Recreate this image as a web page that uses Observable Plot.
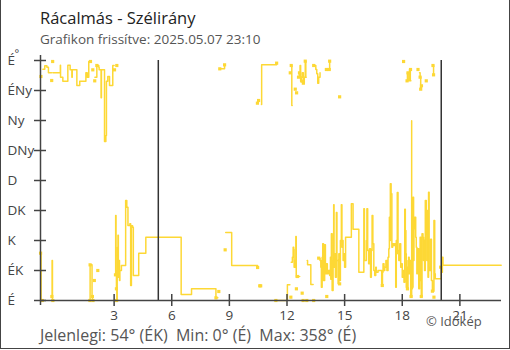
<!DOCTYPE html>
<html><head><meta charset="utf-8">
<script src="https://cdn.jsdelivr.net/npm/d3@7"></script>
<script src="https://cdn.jsdelivr.net/npm/@observablehq/plot@0.6"></script>
<style>
html,body{margin:0;padding:0;background:#fff;}
#card{position:relative;width:510px;height:350px;font-family:"Open Sans",sans-serif;overflow:hidden;background:#fff;}
#frame{position:absolute;left:0;top:0;width:510px;height:349px;box-sizing:border-box;border:1px solid #444;border-top:none;pointer-events:none;}
.t{position:absolute;white-space:pre;line-height:1.2;}
#title{left:40px;top:8px;font-size:16.5px;color:#222;}
#sub{left:40px;top:31px;font-size:13.5px;color:#555;}
#foot{left:40px;top:326px;font-size:16px;color:#555;}
#copy{left:426px;top:314px;font-size:13px;color:#555;}
#chart{position:absolute;left:0;top:40px;}
</style></head>
<body>
<div id="card">
<div id="chart"></div>
<div class="t" id="title">Rácalmás - Szélirány</div>
<div class="t" id="sub">Grafikon frissítve: 2025.05.07 23:10</div>
<div class="t" id="foot">Jelenlegi: 54° (ÉK)  Min: 0° (É)  Max: 358° (É)</div>
<div class="t" id="copy">© Időkép</div>
<div id="frame"></div>
</div>
<script>
// x: hours of 2025-05-07 (window 23:10 previous day .. 23:10), y: wind direction in degrees
const xDomain = [-0.833, 23.167];
const xTicks = [3, 6, 9, 12, 15, 18, 21];
const yTicks = [0, 45, 90, 135, 180, 225, 270, 315, 360];
const yLabels = ["É", "ÉK", "K", "DK", "D", "DNy", "Ny", "ÉNy", "É"];
const sunTimes = [5.3, 20.03];

const nightLine = [
  [-0.83, 71], [-0.8, 0], [-0.74, 0], null,
  [-0.71, 347], [-0.61, 352], [-0.5, 350], [-0.42, 341.5], [-0.26, 341.5], null,
  [-0.24, 6], [-0.23, 60], [-0.21, 0], [-0.19, 0], null,
  [-0.19, 341.5], [0.2, 352.7], [0.21, 335], [0.33, 329], [0.59, 352.7], [0.71, 346], [0.8, 335], [0.82, 346],
  [1.06, 322.5], [1.21, 329], [1.53, 341.5], [1.6, 335], [1.68, 358.5], [1.78, 358.5], null,
  [1.74, 0], [1.75, 53.5], [1.85, 6], [1.87, 0], [1.9, 0], null,
  [2.0, 335], [2.1, 352.5], [2.2, 350], [2.22, 346], [2.32, 304], [2.34, 346], [2.5, 238.5], [2.57, 247.5],
  [2.6, 329], [2.67, 336], [2.76, 322.5], [2.93, 352.5], [3.0, 352.5]
];
const morningLine = [
  [3.07, 38.5], [3.08, 127.5], [3.1, 45], [3.12, 17.5], [3.14, 0], [3.16, 40], [3.18, 80], [3.2, 98], [3.22, 35],
  [3.25, 60], [3.28, 30], [3.3, 45], [3.38, 52.5], [3.6, 150], [3.66, 140], [3.72, 112.5], [3.82, 115], [3.86, 22.5],
  [3.9, 112], [3.96, 110], [4.0, 37.5], [4.28, 71], [4.65, 95], [6.48, 95], [6.49, 9], [6.96, 9], [7.03, 17.5],
  [8.29, 17.5], [8.3, 4], [8.4, 4], null,
  [8.5, 347.5], [8.73, 347.5], [8.75, 353.5], null,
  [8.81, 102], [9.1, 102], [9.12, 52.5], [10.47, 52.5], null,
  [10.67, 294], [10.68, 353.5], [11.46, 353.5], null,
  [11.42, 0], [12.02, 23.5], [12.15, 23.5]
];
const noonTop = [
  [12.22, 352.5], [12.25, 292.5], [12.27, 292.5], null,
  [12.6, 335], [12.64, 341.5], [12.68, 352.5], [12.71, 329], [12.75, 335], [12.8, 341.5], [12.85, 326], [12.9, 335],
  [12.95, 359], [12.98, 335], [13.0, 335], null,
  [13.45, 352.5], [13.5, 346.5], [13.55, 340], [13.6, 326], [13.65, 335], [13.72, 341.5], null,
  [14.05, 346.5], [14.2, 346.5], [14.22, 359]
];
const noonLine = [
  [12.22, 57.5], [12.28, 65], [12.32, 80], [12.35, 77], [12.37, 50], [12.42, 60], [12.46, 96], [12.48, 35],
  [12.54, 36], [12.66, 36], null,
  [13.05, 60], [13.07, 53.5], [13.24, 24], [13.36, 24]
];
const afternoonLine = [
  [13.65, 63.5], [13.72, 60], [13.76, 50], [13.79, 20], [13.83, 65], [13.86, 85], [13.9, 30], [13.96, 83.5],
  [14.0, 40], [14.05, 55], [14.1, 40], [14.15, 45], [14.22, 37.5], [14.26, 65], [14.28, 32], [14.31, 100],
  [14.35, 15], [14.4, 60], [14.43, 143.5], [14.45, 50], [14.48, 70], [14.52, 35], [14.57, 132], [14.6, 60],
  [14.66, 25], [14.7, 70], [14.74, 30], [14.78, 90], [14.83, 143.5], [14.86, 80], [14.88, 90], [14.92, 60],
  [14.96, 70], [15.0, 50], [15.05, 95], [15.32, 95], [15.35, 145], [15.44, 107], [15.73, 107], [15.74, 42.5],
  [15.96, 42.5], [16.0, 137.5], [16.03, 60], [16.08, 60], [16.13, 90], [16.16, 137.5], [16.2, 75], [16.25, 55],
  [16.3, 77.5], [16.35, 35], [16.39, 75], [16.43, 127.5], [16.47, 85], [16.52, 45], [16.57, 37.5], [16.62, 50],
  [16.65, 42.5], [16.74, 45], [16.91, 45], [16.93, 22.5], [16.97, 42.5], [17.0, 55], [17.05, 45], [17.09, 50],
  [17.15, 60], [17.2, 45], [17.26, 65], [17.3, 77.5], [17.33, 125], [17.36, 90], [17.38, 175], [17.42, 160],
  [17.46, 80], [17.5, 85], [17.55, 82.5], [17.61, 85], [17.66, 20], [17.69, 90], [17.72, 70], [17.74, 162],
  [17.78, 75], [17.82, 60], [17.87, 85], [17.92, 50], [17.95, 55], [18.0, 35], [18.04, 45], [18.09, 27.5],
  [18.13, 137], [18.16, 105], [18.19, 70], [18.21, 20], [18.24, 50], [18.27, 17.5], [18.3, 60], [18.33, 65],
  [18.36, 40], [18.4, 60], [18.44, 5], [18.49, 269.5], null
];
const eveningLine = [
  [18.5, 17.5], [18.53, 20], [18.56, 155], [18.59, 60], [18.61, 107.5], [18.65, 125], [18.7, 95], [18.73, 80],
  [18.76, 40], [18.79, 60], [18.82, 77.5], [18.86, 17.5], [18.9, 50], [18.93, 95], [18.96, 30], [18.99, 6],
  [19.03, 100], [19.08, 95], [19.11, 60], [19.13, 90], [19.16, 45], [19.2, 150], [19.25, 100], [19.28, 60],
  [19.31, 135], [19.34, 35], [19.37, 162.5], [19.4, 50], [19.43, 45], [19.48, 92], [19.52, 30], [19.57, 15],
  [19.6, 14], [19.65, 120], [19.69, 40], [19.72, 32.5], [20.0, 32.5], [20.03, 47.5], [20.06, 42.5], [20.09, 65],
  [20.12, 53], [23.15, 53]
];
const eveningTop = [
  [18.25, 329.5], [18.27, 341.5], [18.3, 329.5], [18.38, 346.5], [18.42, 329.5], [18.45, 329.5], null,
  [18.9, 341.5], [18.93, 335], [18.96, 317], [18.99, 322], null,
  [19.6, 352.5], [19.63, 338.5]
];
const squares = [
  [-0.83, 71], [-0.81, 336], [-0.74, 0], [-0.25, 330], [-0.2, 358.5], [-0.24, 6], [-0.19, 0], [1.77, 358.5],
  [1.74, 0], [1.75, 53.5], [1.9, 0], [1.87, 6], [1.89, 346], [1.99, 329.5], [1.97, 30], [2.15, 45], [2.1, 352.5],
  [3.02, 346], [3.14, 352.5], [3.07, 38.5], [3.12, 17.5], [3.13, 0],
  [8.45, 13.5], [8.3, 4], [8.78, 76], [8.75, 353.5], [8.5, 347.5], [10.47, 49.5], [10.58, 22], [10.63, 22],
  [10.46, 296], [10.52, 300], [11.46, 356], [11.42, 0],
  [12.17, 341.5], [12.22, 352.5], [12.43, 317], [12.5, 311.5], [12.6, 335], [12.65, 341.5], [12.95, 359],
  [12.78, 329], [12.85, 326], [13.39, 352.5], [14.05, 346.5], [14.2, 346.5], [14.22, 359], [14.74, 305.5],
  [18.07, 358.5], [18.43, 346.5], [18.25, 329.5], [18.3, 341.5], [18.82, 346.5], [18.93, 335], [18.96, 317],
  [19.0, 322], [19.25, 329.5], [19.6, 352.5], [19.63, 338.5],
  [12.2, 5], [12.49, 17.5], [12.54, 36], [12.79, 11], [12.84, 0], [13.03, 0], [13.39, 0], [13.65, 63.5],
  [14.07, 6], [14.74, 25], [16.96, 22.5], [18.27, 17.5], [18.46, 6], [18.99, 6], [19.57, 14], [19.65, 5], [20.0, 50]
];

const yellow = "#FDD835";
const gap = {h: NaN, d: NaN};
const toRows = arr => arr.map(p => p === null ? gap : {h: p[0], d: p[1]});
const lineRows = [nightLine, morningLine, noonTop, noonLine, afternoonLine, eveningLine, eveningTop]
  .flatMap(a => [...toRows(a), gap]);

const chart = Plot.plot({
  width: 510, height: 290,
  marginLeft: 40, marginRight: 9, marginTop: 20, marginBottom: 30,
  style: {fontFamily: "'Open Sans', sans-serif", background: "transparent", overflow: "visible"},
  x: {domain: xDomain, label: null, axis: null},
  y: {domain: [0, 360], label: null, axis: null},
  marks: [
    Plot.line(lineRows, {x: "h", y: "d", curve: "step-after", stroke: yellow, strokeWidth: 1.5}),
    Plot.dot(squares, {x: d => d[0], y: d => d[1], symbol: "square", r: 1.8, fill: yellow}),
    Plot.ruleX(sunTimes, {y1: 0, y2: 360, stroke: "#333", strokeWidth: 1.5}),
    Plot.ruleY([0], {stroke: "#444", strokeWidth: 1.5}),
    Plot.ruleX([xDomain[0]], {y1: -7.5, y2: 367.5, stroke: "#444", strokeWidth: 1.5}),
    Plot.axisY({ticks: yTicks, tickSize: 12, dx: 6, tickFormat: () => "", stroke: "#444", strokeWidth: 1.5, label: null}),
    Plot.axisX({ticks: xTicks, tickSize: 12, dy: -6, tickFormat: () => "", stroke: "#444", strokeWidth: 1.5, label: null}),
    Plot.text(xTicks, {x: d => d, text: d => String(d), frameAnchor: "bottom", lineAnchor: "top", dy: 10, fontSize: 13.5, fill: "#444"}),
    Plot.text(yTicks, {y: d => d, text: (d, i) => yLabels[i], frameAnchor: "left", textAnchor: "start", dx: -33, fontSize: 13.5, fill: "#444"}),
    Plot.text(["°"], {frameAnchor: "top-left", dx: -26, dy: -11, fontSize: 11, fill: "#444"})
  ]
});
document.getElementById("chart").appendChild(chart);
</script>
</body></html>
